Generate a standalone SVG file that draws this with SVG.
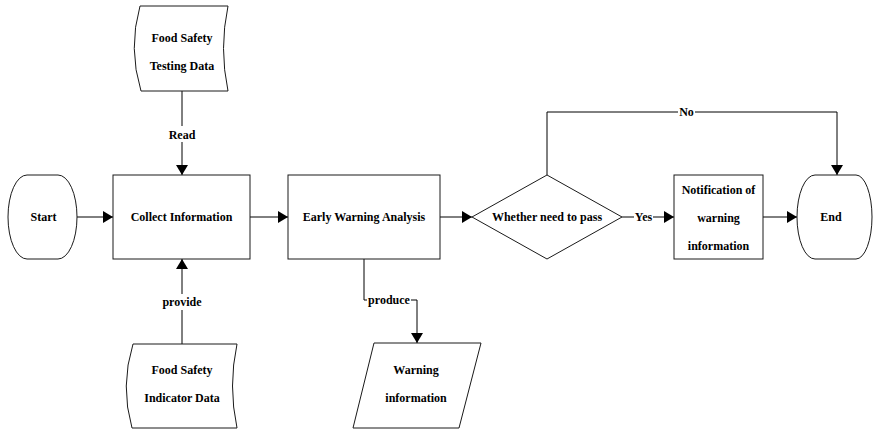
<svg xmlns="http://www.w3.org/2000/svg" width="873" height="429" viewBox="0 0 873 429">
<defs>
<style>
.s{fill:#fff;stroke:#1a1a1a;stroke-width:1}
.c{fill:none;stroke:#000;stroke-width:1}
text{font-family:'Liberation Serif','DejaVu Serif',serif;font-weight:700;font-size:12px;fill:#000;text-anchor:middle}
.bg{fill:#fff;stroke:none}
</style>
<marker id="ah" viewBox="0 0 10 12" refX="10" refY="6" markerWidth="10" markerHeight="12" markerUnits="userSpaceOnUse" orient="auto">
<path d="M0,0 L10,6 L0,12 Z" fill="#000"/>
</marker>
</defs>
<rect width="873" height="429" fill="#fff"/>
<g id="connectors">
<line class="c" x1="77" y1="217" x2="113" y2="217" marker-end="url(#ah)"/>
<line class="c" x1="250" y1="217" x2="288" y2="217" marker-end="url(#ah)"/>
<line class="c" x1="440" y1="217" x2="472" y2="217" marker-end="url(#ah)"/>
<line class="c" x1="622" y1="217" x2="674" y2="217" marker-end="url(#ah)"/>
<line class="c" x1="763" y1="217" x2="797" y2="217" marker-end="url(#ah)"/>
<polyline class="c" points="547,175 547,112 837,112 837,175" marker-end="url(#ah)"/>
<line class="c" x1="182" y1="91" x2="182" y2="175" marker-end="url(#ah)"/>
<line class="c" x1="182" y1="344" x2="182" y2="259" marker-end="url(#ah)"/>
<polyline class="c" points="364,259 364,300 417,300 417,343" marker-end="url(#ah)"/>
<rect class="bg" x="168" y="126" width="28" height="16"/>
<text x="182" y="139">Read</text>
<rect class="bg" x="160" y="294" width="44" height="16"/>
<text x="182" y="306">provide</text>
<rect class="bg" x="367" y="293" width="44" height="14"/>
<text x="389" y="304">produce</text>
<rect class="bg" x="634" y="210" width="19" height="14"/>
<text x="643.5" y="221">Yes</text>
<rect class="bg" x="678" y="105" width="17" height="14"/>
<text x="686.5" y="116">No</text>
</g>
<g id="start">
<path class="s" d="M27,175 H58 A19,42 0 0 1 58,259 H27 A19,42 0 0 1 27,175 Z"/>
<text x="43.5" y="221">Start</text>
</g>
<g id="collect">
<rect class="s" x="113" y="175" width="137" height="84"/>
<text x="181.5" y="221">Collect Information</text>
</g>
<g id="early">
<rect class="s" x="288" y="175" width="152" height="84"/>
<text x="364" y="221">Early Warning Analysis</text>
</g>
<g id="decision">
<path class="s" d="M472,217 L547,175 L622,217 L547,259 Z"/>
<text x="547" y="221">Whether need to pass</text>
</g>
<g id="notification">
<rect class="s" x="674" y="175" width="89" height="84"/>
<text x="718.5" y="194">Notification of</text>
<text x="718.5" y="222">warning</text>
<text x="718.5" y="250">information</text>
</g>
<g id="end">
<path class="s" d="M815,175 H856 A16,42 0 0 1 856,259 H815 A18,42 0 0 1 815,175 Z"/>
<text x="831" y="221">End</text>
</g>
<g id="testing-data">
<path class="s" d="M140,6 H228 Q219,48.5 228,91 H141 Q128,48.5 140,6 Z"/>
<text x="182" y="42">Food Safety</text>
<text x="182" y="70">Testing Data</text>
</g>
<g id="indicator-data">
<path class="s" d="M133,344 H237 Q228,386 237,428 H132 Q120,386 133,344 Z"/>
<text x="182" y="374">Food Safety</text>
<text x="182" y="402">Indicator Data</text>
</g>
<g id="warning-info">
<path class="s" d="M374,343 H481 L459,428 H353 Z"/>
<text x="416" y="374">Warning</text>
<text x="416" y="402">information</text>
</g>
</svg>
